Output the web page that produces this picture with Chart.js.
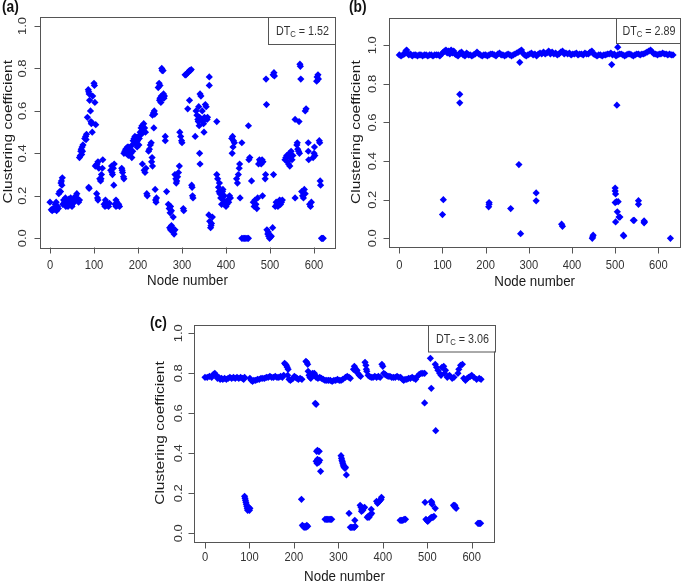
<!DOCTYPE html>
<html>
<head>
<meta charset="utf-8">
<script src="https://cdn.jsdelivr.net/npm/chart.js@4.4.1/dist/chart.umd.min.js"></script>
<style>
  html, body { margin: 0; padding: 0; background: #fff; }
  #wrap { position: relative; width: 685px; height: 582px; overflow: hidden; }
  #wrap canvas { position: absolute; left: 0; top: 0; }
</style>
</head>
<body>
<div id="wrap">
  <canvas id="chartA" width="685" height="582"></canvas>
  <canvas id="chartB" width="685" height="582"></canvas>
  <canvas id="chartC" width="685" height="582"></canvas>
</div>
<script>
// ---- data ----
const X_TICKS = [0, 100, 200, 300, 400, 500, 600];
const Y_TICKS = [0, 0.2, 0.4, 0.6, 0.8, 1.0];
const Y_TICK_LABELS = ['0.0', '0.2', '0.4', '0.6', '0.8', '1.0'];
const X_TITLE = 'Node number';
const Y_TITLE = 'Clustering coefficient';
const PANEL_TAGS = ['(a)', '(b)', '(c)'];
const DT_VALUES = ['1.52', '2.89', '3.06'];

// panel (a): [node, clustering coefficient]
const pointsA = [
  [0,0.17],[3,0.135],[5,0.13],[7,0.14],[9,0.135],[11,0.14],[13,0.145],[15,0.13],[17,0.15],[19,0.14],[14,0.17],[12,0.16],
  [20,0.21],[22,0.22],[24,0.22],[25,0.26],[27,0.25],[28,0.285],[26,0.27],
  [29,0.16],[31,0.18],[33,0.17],[35,0.19],[37,0.165],[39,0.18],[41,0.15],[43,0.185],[45,0.17],[47,0.19],[49,0.155],
  [51,0.175],[53,0.165],[55,0.19],[57,0.18],[59,0.2],[61,0.21],[63,0.185],[65,0.17],[67,0.18],[36,0.15],[50,0.15],
  [67,0.38],[69,0.39],[71,0.42],[73,0.43],[70,0.41],[74,0.41],[75,0.44],[72,0.395],
  [79,0.47],[81,0.48],[83,0.49],[82,0.465],
  [85,0.57],[87,0.70],[89,0.68],[90,0.65],[92,0.60],[93,0.55],[94,0.54],[96,0.50],[97,0.67],[100,0.73],[101,0.72],
  [102,0.64],[104,0.535],[88,0.69],[95,0.545],
  [88,0.24],[89,0.235],
  [103,0.34],[105,0.345],[107,0.35],[109,0.36],[111,0.33],[106,0.21],[108,0.19],[109,0.18],[113,0.28],[115,0.27],
  [117,0.30],[116,0.28],[119,0.33],[120,0.37],
  [123,0.16],[125,0.15],[127,0.17],[129,0.155],[131,0.16],[133,0.15],[135,0.165],[126,0.18],
  [138,0.32],[140,0.34],[142,0.30],[144,0.33],[146,0.35],[141,0.31],[145,0.25],
  [148,0.16],[150,0.15],[152,0.17],[154,0.155],[156,0.16],[158,0.15],[150,0.18],
  [163,0.33],[165,0.31],[167,0.29],[168,0.28],[164,0.32],
  [168,0.40],[170,0.41],[172,0.42],[174,0.40],[176,0.43],[178,0.39],[180,0.41],[182,0.42],[184,0.40],[186,0.38],
  [188,0.41],[179,0.43],[175,0.405],
  [187,0.44],[189,0.46],[191,0.47],[193,0.48],[195,0.45],[197,0.475],[199,0.46],[201,0.48],[203,0.47],[198,0.43],[202,0.44],
  [205,0.50],[207,0.52],[209,0.53],[211,0.51],[213,0.54],[215,0.52],[217,0.50],[210,0.35],[208,0.49],
  [214,0.32],[216,0.31],[218,0.33],[220,0.21],[221,0.20],
  [224,0.41],[226,0.42],[228,0.44],[230,0.45],[231,0.36],[232,0.38],[233,0.34],
  [233,0.58],[235,0.59],[237,0.60],[236,0.52],[238,0.585],
  [239,0.23],[240,0.18],[241,0.17],[242,0.19],
  [246,0.71],[248,0.73],[250,0.72],[250,0.66],[252,0.64],[253,0.67],[249,0.65],
  [254,0.80],[255,0.79],[257,0.79],[258,0.68],[259,0.66],[260,0.67],
  [262,0.46],[262,0.48],[265,0.22],
  [269,0.16],[271,0.14],[273,0.12],[274,0.15],[276,0.13],
  [272,0.05],[274,0.04],[276,0.06],[278,0.05],[280,0.03],[282,0.02],[284,0.04],[280,0.10],
  [284,0.30],[286,0.28],[288,0.27],[290,0.29],[292,0.31],[287,0.26],
  [295,0.50],[297,0.48],[299,0.46],[300,0.45],[294,0.34],
  [303,0.14],[304,0.13],
  [307,0.77],[309,0.77],[311,0.775],[313,0.78],[315,0.785],[317,0.79],[319,0.79],[321,0.795],
  [313,0.61],[317,0.65],
  [322,0.25],[323,0.24],[324,0.2],[325,0.19],[330,0.48],
  [332,0.60],[334,0.58],[336,0.56],[338,0.62],[340,0.57],[337,0.55],[339,0.53],[341,0.68],[343,0.67],[340,0.40],[341,0.35],
  [345,0.56],[347,0.55],[349,0.54],[351,0.57],[353,0.63],[355,0.62],[357,0.56],[358,0.57],[350,0.50],[346,0.60],
  [362,0.76],[362,0.72],
  [361,0.11],[363,0.08],[365,0.05],[367,0.07],[369,0.10],[366,0.06],
  [379,0.55],
  [379,0.30],[381,0.28],[383,0.24],[385,0.26],[384,0.22],
  [386,0.21],[388,0.19],[390,0.16],[392,0.22],[394,0.18],[396,0.2],[398,0.17],[400,0.15],[402,0.16],[404,0.18],
  [406,0.17],[408,0.2],[410,0.19],[393,0.23],
  [413,0.47],[415,0.48],[417,0.46],[419,0.45],[414,0.40],[416,0.43],
  [424,0.28],[426,0.26],[428,0.30],[430,0.33],[431,0.35],[432,0.19],
  [436,0.45],
  [436,0.0],[439,0.0],[442,0.0],[445,0.0],[448,0.0],[451,0.0],
  [451,0.53],[452,0.37],[454,0.38],[458,0.27],
  [462,0.17],[464,0.15],[466,0.18],[468,0.16],[470,0.14],[472,0.19],
  [474,0.35],[476,0.37],[478,0.36],[480,0.35],[482,0.37],[484,0.36],[483,0.2],
  [489,0.28],[490,0.30],[491,0.75],[492,0.63],
  [493,0.04],[495,0.02],[497,0.01],[499,0.00],[501,0.005],[503,0.01],[496,0.03],
  [506,0.05],[508,0.30],[507,0.77],[509,0.78],[510,0.765],
  [512,0.15],[514,0.17],[516,0.16],[518,0.15],[520,0.17],[522,0.18],[524,0.16],[526,0.17],[528,0.18],
  [534,0.37],[536,0.38],
  [538,0.39],[540,0.36],[542,0.35],[544,0.40],[546,0.38],[548,0.41],[550,0.37],[552,0.39],[545,0.34],
  [557,0.19],[557,0.56],
  [561,0.44],[563,0.42],[565,0.41],[567,0.40],[562,0.45],
  [568,0.82],[569,0.81],[570,0.75],[566,0.55],
  [572,0.22],[574,0.20],[576,0.19],[578,0.23],[580,0.21],
  [580,0.60],[582,0.61],
  [587,0.45],[587,0.41],[588,0.37],[590,0.16],[592,0.15],[594,0.17],
  [598,0.38],[600,0.40],[601,0.43],[602,0.39],
  [606,0.74],[607,0.76],[609,0.77],[610,0.75],
  [612,0.46],[613,0.45],[614,0.27],[615,0.25],
  [617,0.0],[619,0.0],[621,0.0]
];

// panel (b): dense band near 0.95 plus scattered low nodes
const pointsB = [
  [0,0.95],[4,0.945],[8,0.95],[12,0.955],[15,0.97],[17,0.975],[19,0.96],[22,0.95],[26,0.955],[30,0.945],
  [34,0.95],[38,0.95],[42,0.945],[46,0.95],[50,0.95],[54,0.945],[58,0.95],[62,0.95],[66,0.945],[70,0.95],
  [74,0.95],[78,0.945],[82,0.95],[86,0.95],[90,0.95],[94,0.945],[98,0.955],[102,0.965],[105,0.97],[108,0.975],
  [111,0.96],[114,0.97],[117,0.955],[120,0.975],[123,0.96],[126,0.97],[129,0.955],[132,0.95],[136,0.945],[140,0.96],
  [144,0.965],[148,0.95],[152,0.945],[156,0.96],[160,0.95],[164,0.95],[168,0.945],[172,0.95],[176,0.955],[180,0.965],
  [184,0.955],[188,0.95],[192,0.945],[196,0.95],[200,0.95],[204,0.945],[208,0.95],[212,0.955],[216,0.955],[220,0.95],
  [224,0.945],[228,0.955],[232,0.96],[236,0.95],[240,0.95],[244,0.945],[248,0.95],[252,0.955],[256,0.95],[260,0.945],
  [264,0.95],[268,0.955],[272,0.96],[276,0.965],[280,0.97],[283,0.975],[286,0.96],[290,0.95],[294,0.945],[298,0.95],
  [302,0.955],[306,0.96],[310,0.95],[314,0.955],[318,0.945],[322,0.955],[326,0.96],[330,0.955],[334,0.965],[338,0.955],
  [342,0.96],[346,0.97],[350,0.955],[354,0.965],[358,0.955],[362,0.96],[366,0.95],[370,0.955],[374,0.965],[378,0.97],
  [382,0.955],[386,0.96],[390,0.955],[394,0.96],[398,0.95],[402,0.955],[406,0.955],[410,0.96],[414,0.95],[418,0.955],
  [422,0.955],[426,0.95],[430,0.96],[434,0.955],[438,0.955],[442,0.965],[446,0.97],[450,0.955],[454,0.95],[458,0.945],
  [462,0.95],[466,0.95],[470,0.945],[474,0.95],[478,0.95],[482,0.955],[486,0.955],[490,0.96],[494,0.95],[498,0.955],
  [502,0.945],[506,0.95],[510,0.955],[514,0.955],[518,0.95],[522,0.945],[526,0.95],[530,0.955],[534,0.955],[538,0.95],
  [542,0.945],[546,0.95],[550,0.955],[554,0.955],[558,0.95],[562,0.955],[566,0.955],[570,0.96],[574,0.965],[578,0.97],
  [582,0.975],[586,0.965],[590,0.955],[594,0.955],[598,0.95],[602,0.955],[606,0.955],[610,0.96],[614,0.955],[618,0.955],
  [622,0.95],[626,0.955],[630,0.95],[634,0.95],
  [100,0.123],[102,0.20],[140,0.746],[140,0.702],[207,0.163],[208,0.176],[208,0.185],[258,0.154],
  [277,0.382],[279,0.912],[281,0.024],[317,0.235],[317,0.194],[376,0.073],[378,0.062],
  [447,0.0],[448,0.007],[449,0.016],[492,0.90],
  [500,0.26],[500,0.245],[501,0.23],[500,0.185],[503,0.19],[507,0.19],[501,0.085],[505,0.137],[509,0.11],[511,0.11],
  [504,0.69],[506,0.99],[519,0.016],[520,0.012],[542,0.093],[544,0.093],[554,0.195],[554,0.176],
  [567,0.09],[567,0.08],[568,0.085],[628,0.0]
];

// panel (c): band near 0.78 plus low clusters
const pointsC = [
  [0,0.78],[5,0.78],[10,0.785],[15,0.78],[19,0.795],[22,0.80],[25,0.79],[28,0.775],[31,0.78],[34,0.77],
  [37,0.775],[40,0.77],[44,0.775],[48,0.77],[52,0.775],[56,0.78],[60,0.775],[64,0.78],[68,0.775],[72,0.78],
  [76,0.775],[80,0.78],[84,0.775],[87,0.77],[89,0.78],[101,0.775],[104,0.765],[107,0.76],[110,0.765],[114,0.765],
  [118,0.77],[122,0.77],[126,0.775],[130,0.775],[134,0.775],[138,0.78],[142,0.78],[146,0.785],[150,0.78],[154,0.78],
  [158,0.785],[162,0.78],[166,0.78],[170,0.785],[174,0.78],[177,0.79],[179,0.85],[181,0.845],[183,0.84],[185,0.83],
  [187,0.82],[186,0.79],[189,0.77],[192,0.765],[195,0.77],[198,0.775],[201,0.785],[204,0.78],[207,0.775],[210,0.77],
  [214,0.775],[218,0.77],[227,0.86],[229,0.855],[231,0.845],[232,0.81],[234,0.79],[236,0.78],[238,0.775],[240,0.79],
  [242,0.80],[244,0.795],[246,0.80],[248,0.79],[250,0.78],[254,0.775],[258,0.78],[262,0.775],[266,0.77],[270,0.765],
  [274,0.765],[278,0.765],[282,0.765],[286,0.76],[290,0.765],[294,0.765],[298,0.77],[302,0.765],[306,0.765],[310,0.77],
  [316,0.78],[320,0.785],[324,0.78],[327,0.775],[334,0.82],[336,0.835],[338,0.825],[340,0.81],[342,0.815],[344,0.80],
  [347,0.79],[350,0.785],[360,0.855],[362,0.84],[363,0.82],[364,0.81],[367,0.79],[370,0.785],[374,0.78],[378,0.78],
  [382,0.785],[386,0.78],[390,0.785],[394,0.78],[398,0.845],[400,0.835],[402,0.80],[405,0.795],[408,0.79],[412,0.785],
  [416,0.785],[420,0.78],[424,0.78],[428,0.78],[432,0.785],[436,0.78],[440,0.78],[444,0.77],[447,0.765],[450,0.77],
  [454,0.77],[458,0.775],[462,0.775],[466,0.78],[470,0.775],[474,0.77],[478,0.785],[482,0.795],[486,0.80],[490,0.80],
  [494,0.80],[518,0.845],[521,0.83],[524,0.815],[528,0.80],[531,0.79],[533,0.83],[537,0.835],[541,0.815],[539,0.80],
  [545,0.78],[550,0.79],[556,0.775],[560,0.78],[569,0.80],[571,0.82],[575,0.84],[579,0.845],[582,0.775],[586,0.765],
  [590,0.775],[593,0.78],[597,0.785],[600,0.79],[605,0.78],[611,0.77],[617,0.775],[621,0.77],
  [89,0.185],[90,0.175],[91,0.165],[92,0.155],[93,0.145],[94,0.135],[95,0.125],[96,0.115],[97,0.12],[98,0.13],
  [99,0.125],[100,0.115],[101,0.125],
  [217,0.17],[219,0.04],[221,0.035],[223,0.03],[225,0.035],[227,0.03],[229,0.04],[231,0.035],
  [248,0.65],[250,0.645],
  [251,0.41],[253,0.415],[255,0.41],[257,0.41],[250,0.36],[252,0.35],[254,0.36],[256,0.355],[258,0.365],[253,0.37],[260,0.31],
  [270,0.07],[273,0.07],[276,0.07],[279,0.07],[282,0.07],[285,0.07],
  [306,0.388],[307,0.375],[308,0.365],[309,0.358],[310,0.35],[311,0.342],[312,0.335],[313,0.33],[315,0.325],[316,0.33],[318,0.292],
  [324,0.10],[327,0.03],[330,0.03],[333,0.03],[336,0.03],[338,0.035],[337,0.065],
  [349,0.14],[351,0.13],[353,0.12],[355,0.115],[357,0.125],[359,0.13],[352,0.11],
  [365,0.08],[367,0.085],[369,0.08],[371,0.09],[373,0.095],[375,0.10],[374,0.12],
  [386,0.16],[388,0.15],[390,0.155],[392,0.16],[394,0.165],[396,0.17],[397,0.18],
  [439,0.065],[442,0.065],[445,0.065],[448,0.07],[451,0.07],
  [495,0.155],[497,0.07],[499,0.065],[501,0.06],[503,0.065],[505,0.07],[507,0.075],[509,0.08],[511,0.08],[513,0.08],[515,0.085],
  [509,0.16],[510,0.155],[511,0.145],[518,0.125],
  [494,0.652],[509,0.725],[507,0.875],[519,0.513],
  [559,0.14],[561,0.135],[563,0.13],[565,0.125],[562,0.14],
  [614,0.05],[616,0.05],[618,0.05],[620,0.05]
];

// ---- drawing helpers ----
const FONT = '"Liberation Sans", Arial, sans-serif';
const SQUEEZE = 0.86;   // the source figure is slightly narrowed horizontally
const INK = '#1a1a1a';
const FRAME = '#555';

function hText(ctx, str, x, y, size, opts) {
  opts = opts || {};
  ctx.save();
  ctx.translate(x, y);
  ctx.scale(SQUEEZE, 1);
  ctx.font = (opts.bold ? 'bold ' : '') + size + 'px ' + FONT;
  ctx.fillStyle = opts.color || INK;
  ctx.textAlign = opts.align || 'center';
  ctx.textBaseline = opts.baseline || 'middle';
  ctx.fillText(str, 0, 0);
  ctx.restore();
}

function vText(ctx, str, x, y, size, color) {
  ctx.save();
  ctx.translate(x, y);
  ctx.rotate(-Math.PI / 2);
  ctx.scale(1, SQUEEZE);
  ctx.font = size + 'px ' + FONT;
  ctx.fillStyle = color || INK;
  ctx.textAlign = 'center';
  ctx.textBaseline = 'middle';
  ctx.fillText(str, 0, 0);
  ctx.restore();
}

// R-style frame: box, outward ticks, rotated y labels, legend box
function rFrame(cfg) {
  return {
    id: 'rFrame',
    beforeDatasetsDraw(chart) {
      const ctx = chart.ctx;
      const a = chart.chartArea;
      const xs = chart.scales.x, ys = chart.scales.y;
      ctx.save();
      ctx.strokeStyle = FRAME;
      ctx.lineWidth = 1;
      ctx.strokeRect(Math.round(a.left) + 0.5, Math.round(a.top) + 0.5,
        Math.round(a.right - a.left), Math.round(a.bottom - a.top));
      ctx.beginPath();
      X_TICKS.forEach(v => {
        const px = Math.round(xs.getPixelForValue(v)) + 0.5;
        ctx.moveTo(px, Math.round(a.bottom) + 0.5);
        ctx.lineTo(px, Math.round(a.bottom) + 6.5);
      });
      Y_TICKS.forEach(v => {
        const py = Math.round(ys.getPixelForValue(v)) + 0.5;
        ctx.moveTo(Math.round(a.left) + 0.5, py);
        ctx.lineTo(Math.round(a.left) - 5.5, py);
      });
      ctx.stroke();
      ctx.restore();

      X_TICKS.forEach(v => hText(ctx, String(v), xs.getPixelForValue(v), cfg.xLabelY, 13, { color: '#333' }));
      Y_TICKS.forEach((v, i) => vText(ctx, Y_TICK_LABELS[i], cfg.yLabelX, ys.getPixelForValue(v), 13, '#333'));

      hText(ctx, X_TITLE, (a.left + a.right) / 2, cfg.xTitleY, 15.5);
      vText(ctx, Y_TITLE, cfg.yTitleX, (a.top + a.bottom) / 2, 15.5);
      hText(ctx, cfg.tag, cfg.tagX, cfg.tagY, 16, { bold: true, color: '#111', align: 'left' });
    },
    afterDatasetsDraw(chart) {
      const ctx = chart.ctx;
      const a = chart.chartArea;
      const w = cfg.legendW, h = cfg.legendH;
      const bx = Math.round(a.right - w), by = Math.round(a.top);
      ctx.save();
      ctx.fillStyle = '#fff';
      ctx.fillRect(bx, by, w, h);
      ctx.strokeStyle = FRAME;
      ctx.lineWidth = 1;
      ctx.strokeRect(bx + 0.5, by + 0.5, w, h);

      // "DT" + subscript "C" + " = value", centred in the box
      const size = 12.5, sub = 9;
      ctx.font = size + 'px ' + FONT;
      const w1 = ctx.measureText('DT').width;
      const w3 = ctx.measureText(' = ' + cfg.dt).width;
      ctx.font = sub + 'px ' + FONT;
      const w2 = ctx.measureText('C').width;
      const total = (w1 + w2 + w3) * SQUEEZE;
      let x = bx + w / 2 - total / 2 + 1;
      const cy = by + h / 2 + 1;
      hText(ctx, 'DT', x, cy, size, { align: 'left', color: '#333' });
      x += w1 * SQUEEZE;
      hText(ctx, 'C', x, cy + 3, sub, { align: 'left', color: '#333' });
      x += w2 * SQUEEZE;
      hText(ctx, ' = ' + cfg.dt, x, cy, size, { align: 'left', color: '#333' });
      ctx.restore();
    }
  };
}

function makePanel(id, points, cfg) {
  new Chart(document.getElementById(id), {
    type: 'scatter',
    data: {
      datasets: [{
        data: points.map(p => ({ x: p[0], y: p[1] })),
        pointStyle: 'rectRot',
        pointRadius: 3.6,
        pointBackgroundColor: '#0000ff',
        pointBorderColor: '#0000ff',
        pointBorderWidth: 0
      }]
    },
    options: {
      responsive: false,
      animation: false,
      events: [],
      layout: {
        padding: {
          left: cfg.area.left, top: cfg.area.top,
          right: 685 - cfg.area.right, bottom: 582 - cfg.area.bottom
        }
      },
      plugins: { legend: { display: false }, tooltip: { enabled: false } },
      scales: {
        x: { type: 'linear', display: false, min: cfg.xMin, max: cfg.xMax },
        y: { type: 'linear', display: false, min: cfg.yMin, max: cfg.yMax }
      }
    },
    plugins: [rFrame(cfg)]
  });
}

makePanel('chartA', pointsA, {
  area: { left: 40, right: 335, top: 16.5, bottom: 247 },
  xMin: -22.7, xMax: 647.7, yMin: -0.041, yMax: 1.0447,
  xLabelY: 265.7, yLabelX: 22.7, xTitleY: 281, yTitleX: 8.5,
  tag: PANEL_TAGS[0], tagX: 2, tagY: 8, dt: DT_VALUES[0], legendW: 67, legendH: 27
});

makePanel('chartB', pointsB, {
  area: { left: 389.3, right: 680, top: 17.5, bottom: 246.7 },
  xMin: -23.2, xMax: 650.2, yMin: -0.0435, yMax: 1.144,
  xLabelY: 265.7, yLabelX: 372.5, xTitleY: 281.7, yTitleX: 356.7,
  tag: PANEL_TAGS[1], tagX: 349, tagY: 8, dt: DT_VALUES[1], legendW: 64, legendH: 25
});

makePanel('chartC', pointsC, {
  area: { left: 194.3, right: 494.7, top: 324.5, bottom: 541.5 },
  xMin: -24.1, xMax: 651.7, yMin: -0.041, yMax: 1.044,
  xLabelY: 557.5, yLabelX: 179, xTitleY: 576.7, yTitleX: 160,
  tag: PANEL_TAGS[2], tagX: 150, tagY: 324, dt: DT_VALUES[2], legendW: 67, legendH: 26.5
});
</script>
</body>
</html>
